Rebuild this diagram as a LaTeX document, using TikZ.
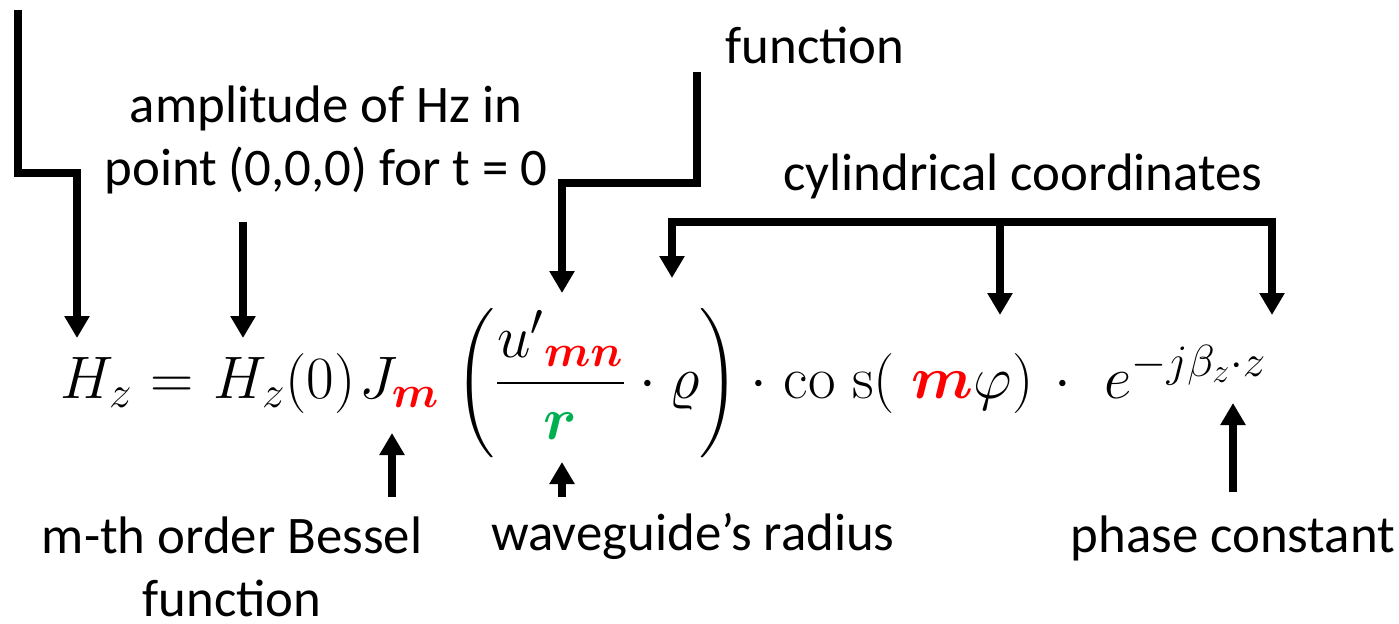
\RequirePackage{fix-cm}
\documentclass[tikz,border=0pt]{standalone}
\usepackage[no-math]{fontspec}
\setmainfont{Carlito}
\usepackage{amsmath}
\usepackage{bm}
\usetikzlibrary{arrows.meta}
\definecolor{mred}{RGB}{255,0,0}
\definecolor{mgreen}{RGB}{0,176,80}
\DeclareMathSizes{30}{30}{22.5}{17}

\begin{document}
\begin{tikzpicture}[x=0.5pt, y=-0.5pt,
  arr/.style={line width=4pt, line join=miter, -{Triangle[width=12pt,length=11pt]}},
  arrtwo/.style={line width=4pt, line join=miter, {Triangle[width=12pt,length=11pt]}-{Triangle[width=12pt,length=11pt]}},
  lbl/.style={font=\fontsize{26.4}{31.5}\selectfont, align=center, inner sep=0pt, anchor=base},
  eq/.style={font=\fontsize{30}{36}\selectfont, inner sep=0pt, anchor=base west}]

\useasboundingbox (0,0) rectangle (1399,623);

%---------------------------------------
% Equation, piece by piece on one baseline
%---------------------------------------
\node[eq] (eqlhs) at (60,398) {$H_z$};
\node[eq] (eqeq)  at (150,398) {$=$};
\node[eq] (eqamp) at (213,398) {$H_z(0)$};
\node[eq] (eqbes) at (359,398) {$J_{\textcolor{mred}{\bm m}}$};
\node[eq] (eqfrac) at (455,398)
  {$\left(\dfrac{{u'}_{\textcolor{mred}{\bm{mn}}}}{\textcolor{mgreen}{\bm r}}\cdot\varrho\right)$};
\node[eq] (eqcos) at (750,398)
  {$\cdot\;\mathrm{co}\;\mathrm{s}(\;\textcolor{mred}{\bm m}\varphi)$};
\node[eq] (eqexp) at (1054,398) {$\cdot\;\;e^{-j\beta_z\cdot z}$};

%---------------------------------------
% Labels (base = last line)
%---------------------------------------
\node[lbl] (amplbl)   at (326,185)  {amplitude of Hz in\\point (0,0,0) for t = 0};
\node[lbl] (funclbl)  at (815,63)   {function};
\node[lbl] (cyllbl)   at (1023,190) {cylindrical coordinates};
\node[lbl] (besslbl)  at (232,616)  {m-th order Bessel\\function};
\node[lbl] (radlbl)   at (693,550)  {waveguide’s radius};
\node[lbl] (phaselbl) at (1233,552) {phase constant};

%---------------------------------------
% Arrow end points
%---------------------------------------
\coordinate (hzS)   at (18,10);
\coordinate (hzA)   at (18,173);
\coordinate (hzB)   at (77,173);
\coordinate (hzE)   at (77,338);
\coordinate (ampS)  at (243,222);
\coordinate (ampE)  at (243,338);
\coordinate (funS)  at (697,72);
\coordinate (funA)  at (697,183);
\coordinate (funB)  at (562,183);
\coordinate (funE)  at (562,293);
\coordinate (rhoE)  at (672,278);
\coordinate (cylL)  at (672,222);
\coordinate (cylM)  at (1000,222);
\coordinate (cylR)  at (1272,222);
\coordinate (phiE)  at (1000,315);
\coordinate (zE)    at (1272,315);
\coordinate (besS)  at (392,497);
\coordinate (besE)  at (392,433);
\coordinate (radS)  at (562,497);
\coordinate (radE)  at (562,462);
\coordinate (betS)  at (1233,492);
\coordinate (betE)  at (1233,403);

% down arrows
\draw[arr] (hzS) -- (hzA) -- (hzB) -- (hzE);
\draw[arr] (ampS) -- (ampE);
\draw[arr] (funS) -- (funA) -- (funB) -- (funE);
\draw[arrtwo] (rhoE) -- (cylL) -- (cylR) -- (zE);
\draw[arr] (cylM) -- (phiE);

% up arrows
\draw[arr] (besS) -- (besE);
\draw[arr] (radS) -- (radE);
\draw[arr] (betS) -- (betE);

\end{tikzpicture}
\end{document}
